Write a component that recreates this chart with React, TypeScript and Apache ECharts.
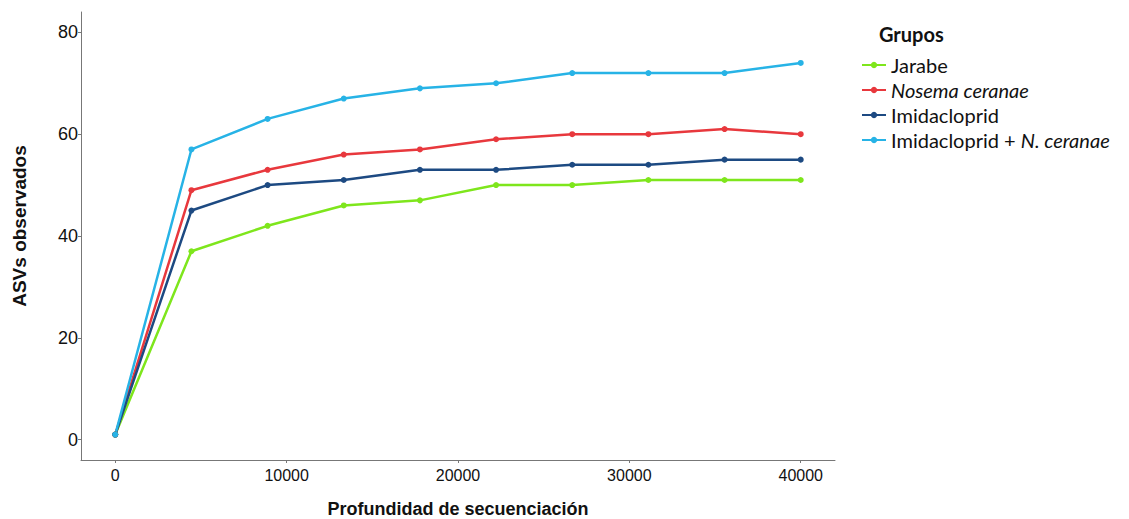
import React, { useEffect, useRef } from "react";
import * as echarts from "echarts";

const depths = [0, 4444, 8889, 13333, 17778, 22222, 26667, 31111, 35556, 40000];
const jarabe = [1, 37, 42, 46, 47, 50, 50, 51, 51, 51];
const nosema = [1, 49, 53, 56, 57, 59, 60, 60, 61, 60];
const imidacloprid = [1, 45, 50, 51, 53, 53, 54, 54, 55, 55];
const imidNosema = [1, 57, 63, 67, 69, 70, 72, 72, 72, 74];
const yTicks = [0, 20, 40, 60, 80];
const xTicks = [0, 10000, 20000, 30000, 40000];

const groups = [
  { name: "Jarabe", label: "Jarabe", data: jarabe, color: "#7ee61c" },
  { name: "Nosema ceranae", label: "{i|Nosema ceranae}", data: nosema, color: "#e8383d" },
  { name: "Imidacloprid", label: "Imidacloprid", data: imidacloprid, color: "#1d4a82" },
  { name: "Imidacloprid + N. ceranae", label: "Imidacloprid + {i|N. ceranae}", data: imidNosema, color: "#27b3e6" },
];

export default function App() {
  const ref = useRef<HTMLDivElement>(null);
  useEffect(() => {
    if (!ref.current) return;
    const chart = echarts.init(ref.current, null, { renderer: "svg" });
    const labelMap: Record<string, string> = {};
    groups.forEach((g) => (labelMap[g.name] = g.label));
    const legendFont = "Lato, 'Noto Sans', sans-serif";
    const axisFont = "'Liberation Sans', Arial, sans-serif";
    chart.setOption({
      animation: false,
      backgroundColor: "#ffffff",
      title: {
        text: "Grupos",
        left: 874,
        top: 19,
        textStyle: { fontFamily: legendFont, fontWeight: "bold", fontSize: 20, color: "#111" },
      },
      legend: {
        orient: "vertical",
        left: 856,
        top: 50,
        itemWidth: 24,
        itemHeight: 8,
        itemGap: 5,
        data: groups.map((g) => g.name),
        formatter: (name: string) => labelMap[name],
        textStyle: {
          fontFamily: legendFont,
          fontSize: 20,
          color: "#111",
          rich: { i: { fontStyle: "italic", fontFamily: legendFont, fontSize: 20, color: "#111" } },
        },
      },
      graphic: [
        {
          type: "text",
          x: 19,
          y: 226,
          rotation: Math.PI / 2,
          style: {
            text: "ASVs observados",
            fontFamily: axisFont,
            fontWeight: "bold",
            fontSize: 19,
            fill: "#111",
            textAlign: "center",
            textVerticalAlign: "middle",
          },
        },
      ],
      grid: { left: 81, right: 294, top: 12, bottom: 59, containLabel: false, outerBoundsMode: "none" },
      xAxis: {
        type: "value",
        min: -2000,
        max: 42000,
        name: "Profundidad de secuenciación",
        nameLocation: "middle",
        nameGap: 40,
        nameTextStyle: { fontFamily: axisFont, fontWeight: "bold", fontSize: 18, color: "#111" },
        splitLine: { show: false },
        axisLine: { show: true, onZero: false, lineStyle: { color: "#777", width: 1 } },
        axisTick: { show: true, length: 3, customValues: xTicks, lineStyle: { color: "#777" } },
        axisLabel: {
          customValues: xTicks,
          formatter: (v: number) => String(v),
          margin: 7,
          fontFamily: axisFont,
          fontSize: 16,
          color: "#111",
        },
      },
      yAxis: {
        type: "value",
        min: -4,
        max: 84,
        splitLine: { show: false },
        axisLine: { show: true, onZero: false, lineStyle: { color: "#777", width: 1 } },
        axisTick: { show: true, length: 3, customValues: yTicks, lineStyle: { color: "#777" } },
        axisLabel: {
          customValues: yTicks,
          margin: 3,
          fontFamily: axisFont,
          fontSize: 18,
          color: "#111",
        },
      },
      series: groups.map((g) => ({
        name: g.name,
        type: "line",
        data: depths.map((d, i) => [d, g.data[i]]),
        symbol: "circle",
        symbolSize: 6,
        showSymbol: true,
        lineStyle: { color: g.color, width: 2.5 },
        itemStyle: { color: g.color },
        emphasis: { disabled: true },
      })),
    });
    return () => chart.dispose();
  }, []);
  return <div ref={ref} style={{ position: "fixed", left: 0, top: 0, width: 1129, height: 519 }} />;
}
